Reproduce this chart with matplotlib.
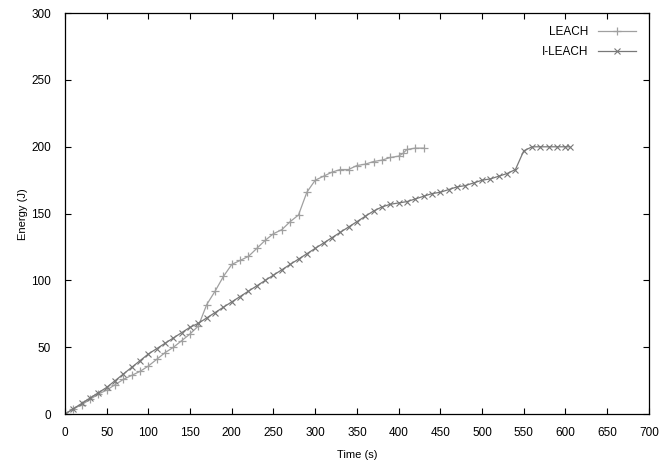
import matplotlib
matplotlib.use("Agg")
import matplotlib.pyplot as plt

# LEACH (curve ending near 430 s)
leach_t = [0, 10, 20, 30, 40, 50, 60, 70, 80, 90, 100, 110, 120, 130, 140, 150, 160,
           170, 180, 190, 200, 210, 220, 230, 240, 250, 260, 270, 280, 290, 300,
           310, 320, 330, 340, 350, 360, 370, 380, 390, 400, 405, 410, 420, 430]
leach_e = [0, 4, 7, 11, 15, 18, 22, 26, 29, 32, 36, 41, 46, 50, 55, 60, 66,
           82, 92, 103, 112, 115, 118, 124, 130, 135, 138, 144, 149, 166, 175,
           178, 181, 183, 183, 186, 187, 189, 190, 192, 193, 195, 198, 199, 199]

# I-LEACH (curve ending near 605 s)
ileach_t = [0, 10, 20, 30, 40, 50, 60, 70, 80, 90, 100, 110, 120, 130, 140, 150, 160,
            170, 180, 190, 200, 210, 220, 230, 240, 250, 260, 270, 280, 290, 300,
            310, 320, 330, 340, 350, 360, 370, 380, 390, 400, 410, 420, 430, 440,
            450, 460, 470, 480, 490, 500, 510, 520, 530, 540, 550, 560, 570, 580,
            590, 600, 605]
ileach_e = [0, 4, 8, 12, 16, 20, 25, 30, 35, 40, 45, 49, 53, 57, 61, 65, 68,
            72, 76, 80, 84, 88, 92, 96, 100, 104, 108, 112, 116, 120, 124,
            128, 132, 136, 140, 144, 148, 152, 155, 157, 158, 159, 161, 163, 165,
            166, 168, 170, 171, 173, 175, 176, 178, 180, 183, 197, 200, 200, 200,
            200, 200, 200]

x_ticks = list(range(0, 701, 50))
y_ticks = list(range(0, 301, 50))

plt.rcParams["font.family"] = ["Liberation Sans", "DejaVu Sans"]

fig = plt.figure(figsize=(6.69, 4.68), dpi=100)
ax = fig.add_axes([0.097, 0.115, 0.873, 0.857])

ax.plot(leach_t, leach_e, color="#a0a0a0", lw=0.9, marker="+", ms=6, mew=0.9,
        label="LEACH")
ax.plot(ileach_t, ileach_e, color="#787878", lw=0.9, marker="x", ms=4.5, mew=0.8,
        label="I-LEACH")

ax.set_xlim(0, 700)
ax.set_ylim(0, 300)
ax.set_xticks(x_ticks)
ax.set_yticks(y_ticks)
ax.tick_params(direction="in", top=True, right=True, labelsize=8.5, length=4,
               width=0.8)
ax.tick_params(axis="x", pad=9)
ax.tick_params(axis="y", pad=10)
for s in ax.spines.values():
    s.set_linewidth(0.9)

ax.set_xlabel("Time (s)", fontsize=8, labelpad=8)
ax.set_ylabel("Energy (J)", fontsize=8, labelpad=2)

ax.legend(loc="upper right", frameon=False, markerfirst=False, fontsize=8.5,
          handlelength=3.2, borderaxespad=0.7, labelspacing=0.7)

fig.savefig("out.png", dpi=100)
